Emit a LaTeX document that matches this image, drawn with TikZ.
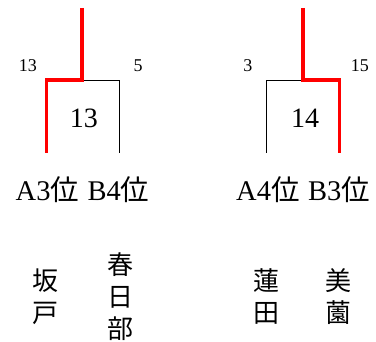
\documentclass[tikz,border=0pt]{standalone}
\usepackage{fontspec}
\setmainfont{Liberation Serif}
\newfontfamily\jp{Noto Sans CJK JP}
\begin{document}
\begin{tikzpicture}[x=1pt,y=-1pt,
  win/.style={draw=red,line width=3.6pt,line join=miter,line cap=butt},
  lose/.style={draw=black,line width=0.8pt},
  score/.style={inner sep=0pt,font=\fontsize{18}{18}\selectfont},
  total/.style={inner sep=0pt,font=\fontsize{28}{28}\selectfont},
  seed/.style={inner sep=0pt,font=\fontsize{28.5}{28.5}\selectfont},
  team/.style={inner sep=0pt,align=center,font=\jp\fontsize{26}{32}\selectfont}]
\useasboundingbox (0,0) rectangle (376,342);
% left bracket
\coordinate (LT) at (82,8);
\coordinate (LJ) at (82,80);
\coordinate (LA) at (46.5,80);
\coordinate (LAB) at (46.5,153);
\coordinate (LB) at (119,80);
\coordinate (LBB) at (119,153);
\draw[lose] (LJ) -- (LB) -- (LBB);
\draw[win] (LT) -- (LJ) -- (LA) -- (LAB);
% right bracket
\coordinate (RT) at (303,8);
\coordinate (RJ) at (303,80);
\coordinate (RA) at (266,80);
\coordinate (RAB) at (266,153);
\coordinate (RB) at (339.5,80);
\coordinate (RBB) at (339.5,153);
\draw[lose] (RJ) -- (RA) -- (RAB);
\draw[win] (RT) -- (RJ) -- (RB) -- (RBB);
% scores
\node[score] (s1) at (28,66) {13};
\node[score] (s2) at (138,66) {5};
\node[score] (s3) at (248,66) {3};
\node[score] (s4) at (360,66) {15};
\node[total] (t1) at (84,118) {13};
\node[total] (t2) at (305,118) {14};
% seeds
\node[seed] (l1) at (82.5,190) {A3{\jp 位}\hspace{0.3em}B4{\jp 位}};
\node[seed] (l2) at (303,190) {A4{\jp 位}\hspace{0.3em}B3{\jp 位}};
% teams
\node[team] (n1) at (46,297) {坂\\戸};
\node[team] (n2) at (120,297) {春\\日\\部};
\node[team] (n3) at (267,297) {蓮\\田};
\node[team] (n4) at (338,297) {美\\薗};
\end{tikzpicture}
\end{document}
